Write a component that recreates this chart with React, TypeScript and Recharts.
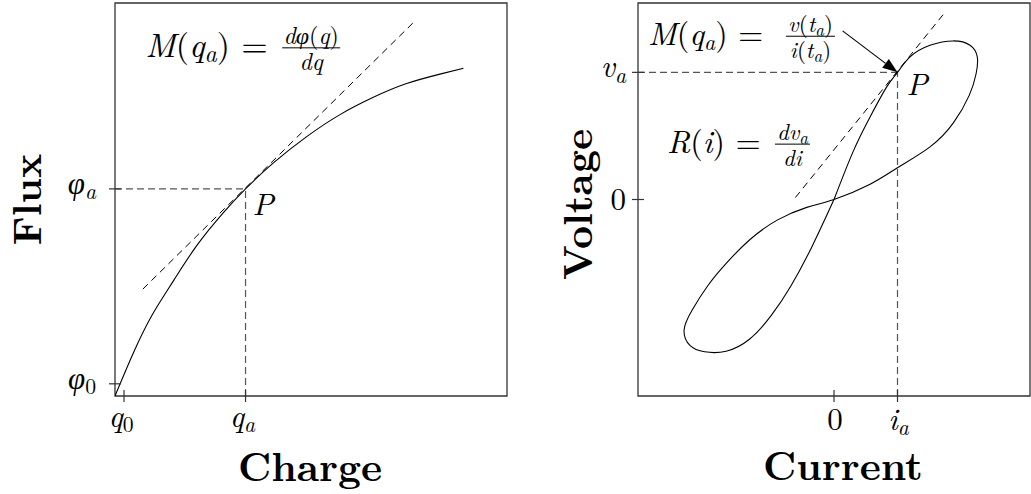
import React from 'react';
import { ComposedChart, Line, XAxis, YAxis, ReferenceArea, ReferenceLine, ReferenceDot, Label } from 'recharts';

const MATH_FONT = '"Latin Modern Roman", "Liberation Serif", serif';
const TITLE_FONT = '"Latin Modern Roman", "DejaVu Serif", serif';

// left panel: flux against charge
const chargeValues = [0, 0.47, 0.94, 1.49, 2.08, 2.76, 3.33, 4.04, 4.89, 5.74, 6.59, 7.44, 8.29, 8.89];
const fluxValues = [0, 1.1, 2.05, 2.93, 3.82, 4.66, 5.27, 5.93, 6.6, 7.16, 7.6, 7.95, 8.19, 8.34];
const chargeTicks = [0.23, 3.33];
const chargeTickLabels = [['q', '0'], ['q', 'a']];
const fluxTicks = [0.31, 5.27];
const fluxTickLabels = [['φ', '0'], ['φ', 'a']];
const fluxTangentQ = [0.71, 7.68];
const fluxTangentPhi = [2.72, 9.57];

// right panel: pinched hysteresis loop (upper lobe, then lower lobe)
const currentValues = [0, 0.98, 1.84, 2.69, 3.24, 3.88, 4.9, 6.09, 6.94, 7.31, 7.25, 6.9, 6.09, 4.9, 3.24, 1.84, 0,
  -1.39, -2.9, -4.3, -5.5, -6.45, -7.25, -7.65, -7.35, -6.6, -5.5, -4.3, -3.2, -2.2, -1.15, 0];
const voltageValues = [0, 2.45, 4.2, 5.73, 6.47, 7.26, 7.85, 8.07, 7.85, 7.26, 6.4, 5.3, 3.9, 2.68, 1.62, 0.78, 0,
  -0.4, -1.05, -2.05, -3.25, -4.4, -5.65, -6.65, -7.42, -7.75, -7.72, -7.1, -5.9, -4.4, -2.45, 0];
const currentTicks = [0, 3.24];
const currentTickLabels = [['0', ''], ['i', 'a']];
const voltageTicks = [0, 6.47];
const voltageTickLabels = [['0', ''], ['v', 'a']];
const voltageTangentI = [-1.97, 5.61];
const voltageTangentV = [0.1, 9.46];
const arrowI = [0.44, 3.24];
const arrowV = [8.58, 6.47];

const fluxData = chargeValues.map((x, i) => ({ x, y: fluxValues[i] }));
const loopData = currentValues.map((x, i) => ({ x, y: voltageValues[i] }));

const BOX = '#333';
const GUIDE = '#555';

const isDigit = (s: string) => /\d/.test(s);

const mathText = (x: number, y: number, base: string, sub: string, anchor: string, size = 31) => (
  <text x={x} y={y} textAnchor={anchor} fontFamily={MATH_FONT} fontSize={size} fill="#000">
    <tspan fontStyle={isDigit(base) ? 'normal' : 'italic'}>{base}</tspan>
    {sub && (
      <tspan fontStyle={isDigit(sub) ? 'normal' : 'italic'} fontSize={size * 0.7} dy={size * 0.17}>{sub}</tspan>
    )}
  </text>
);

const renderTick = (p: any, ticks: number[], labels: string[][], side: string, gap: number, dx = 0) => {
  const { x, y, payload } = p;
  const idx = ticks.indexOf(payload.value);
  if (idx < 0) return <g />;
  const [base, sub] = labels[idx];
  if (side === 'left') {
    const dy = isDigit(base) ? 10 : 5;
    return (
      <g>
        <line x1={x - 6} x2={x + 6} y1={y} y2={y} stroke={BOX} strokeWidth={1.2} />
        {mathText(x - gap, y + dy, base, sub, 'end')}
      </g>
    );
  }
  return (
    <g>
      <line x1={x} x2={x} y1={y - 6} y2={y + 6} stroke={BOX} strokeWidth={1.2} />
      {mathText(x + dx, y + gap, base, sub, 'middle')}
    </g>
  );
};

const ArrowShape = (p: any) => {
  const { x1, y1, x2, y2 } = p;
  const ang = Math.atan2(y2 - y1, x2 - x1);
  const len = 15;
  const half = 5.5;
  const bx = x2 - len * Math.cos(ang);
  const by = y2 - len * Math.sin(ang);
  const pts = `${x2},${y2} ${bx + half * Math.sin(ang)},${by - half * Math.cos(ang)} ${bx - half * Math.sin(ang)},${by + half * Math.cos(ang)}`;
  return (
    <g>
      <line x1={x1} y1={y1} x2={bx} y2={by} stroke="#000" strokeWidth={1.1} />
      <polygon points={pts} fill="#000" />
    </g>
  );
};

const fraction = (cx: number, cy: number, left: number, right: number, size: number, num: React.ReactNode, den: React.ReactNode) => (
  <g>
    <text x={cx + (left + right) / 2} y={cy - 13} fontSize={size} textAnchor="middle">{num}</text>
    <line x1={cx + left} x2={cx + right} y1={cy - 9} y2={cy - 9} stroke="#000" strokeWidth={1} />
    <text x={cx + (left + right) / 2} y={cy + 13} fontSize={size} textAnchor="middle">{den}</text>
  </g>
);

const FluxFormula = (p: any) => {
  const { cx, cy } = p;
  return (
    <g fontFamily={MATH_FONT} fill="#000">
      <text x={cx} y={cy} fontSize={34}>
        <tspan fontStyle="italic">M</tspan>(<tspan fontStyle="italic">q</tspan>
        <tspan fontStyle="italic" fontSize={24} dy={5}>a</tspan>
        <tspan dy={-5}>) =</tspan>
      </text>
      {fraction(cx, cy, 137, 195, 24,
        <>
          <tspan fontStyle="italic">dφ</tspan>(<tspan fontStyle="italic">q</tspan>)
        </>,
        <tspan fontStyle="italic">dq</tspan>
      )}
    </g>
  );
};

const RatioFormula = (p: any) => {
  const { cx, cy } = p;
  return (
    <g fontFamily={MATH_FONT} fill="#000">
      <text x={cx} y={cy} fontSize={32}>
        <tspan fontStyle="italic">M</tspan>(<tspan fontStyle="italic">q</tspan>
        <tspan fontStyle="italic" fontSize={22} dy={5}>a</tspan>
        <tspan dy={-5}>) =</tspan>
      </text>
      {fraction(cx, cy, 138, 187, 23,
        <>
          <tspan fontStyle="italic">v</tspan>(<tspan fontStyle="italic">t</tspan>
          <tspan fontStyle="italic" fontSize={17} dy={4}>a</tspan>
          <tspan dy={-4}>)</tspan>
        </>,
        <>
          <tspan fontStyle="italic">i</tspan>(<tspan fontStyle="italic">t</tspan>
          <tspan fontStyle="italic" fontSize={17} dy={4}>a</tspan>
          <tspan dy={-4}>)</tspan>
        </>
      )}
    </g>
  );
};

const SlopeFormula = (p: any) => {
  const { cx, cy } = p;
  return (
    <g fontFamily={MATH_FONT} fill="#000">
      <text x={cx} y={cy} fontSize={32}>
        <tspan fontStyle="italic">R</tspan>(<tspan fontStyle="italic">i</tspan>) =
      </text>
      {fraction(cx, cy, 108, 143, 23,
        <>
          <tspan fontStyle="italic">dv</tspan>
          <tspan fontStyle="italic" fontSize={17} dy={4}>a</tspan>
        </>,
        <tspan fontStyle="italic">di</tspan>
      )}
    </g>
  );
};

const pointLabel = (dx: number, dy: number) => (p: any) => (
  <text x={p.cx + dx} y={p.cy + dy} fontFamily={MATH_FONT} fontStyle="italic" fontSize={31} fill="#000">P</text>
);

const titleX = (text: string, dx: number, dy: number) => (p: any) => {
  const vb = p.viewBox;
  return (
    <text x={vb.x + vb.width / 2 + dx} y={vb.y + dy} textAnchor="middle" fontFamily={TITLE_FONT} fontWeight="bold" fontSize={40} fill="#000">{text}</text>
  );
};

const titleY = (text: string, dx: number, dy: number) => (p: any) => {
  const vb = p.viewBox;
  const cx = vb.x + vb.width - dx;
  const cy = vb.y + vb.height / 2 + dy;
  return (
    <text x={cx} y={cy} transform={`rotate(-90 ${cx} ${cy})`} textAnchor="middle" fontFamily={TITLE_FONT} fontWeight="bold" fontSize={40} fill="#000">{text}</text>
  );
};

const App = () => {
  return (
    <div style={{ position: 'absolute', left: 0, top: 0, width: 1031, height: 494, background: '#fff' }}>
      <div style={{ position: 'absolute', left: 0, top: 0 }}>
        <ComposedChart width={520} height={494} margin={{ top: 3, right: 13, bottom: 0, left: 0 }}>
          <XAxis dataKey="x" type="number" domain={[0, 10]} allowDataOverflow ticks={chargeTicks} interval={0}
            height={98} axisLine={false} tickLine={false} tickSize={0} tickMargin={0}
            tick={(p: any) => renderTick(p, chargeTicks, chargeTickLabels, 'bottom', 31, -3)}>
            <Label content={titleX('Charge', -1, 85)} />
          </XAxis>
          <YAxis type="number" domain={[0, 10]} allowDataOverflow ticks={fluxTicks} interval={0}
            width={115} axisLine={false} tickLine={false} tickSize={0} tickMargin={0}
            tick={(p: any) => renderTick(p, fluxTicks, fluxTickLabels, 'left', 19)}>
            <Label content={titleY('Flux', 74, 0)} />
          </YAxis>
          <ReferenceArea x1={0} x2={10} y1={0} y2={10} fill="none" stroke={BOX} strokeWidth={1.3} />
          <ReferenceLine segment={[{ x: 0, y: fluxTicks[1] }, { x: chargeTicks[1], y: fluxTicks[1] }]} stroke={GUIDE} strokeWidth={1.2} strokeDasharray="7 4" />
          <ReferenceLine segment={[{ x: chargeTicks[1], y: 0 }, { x: chargeTicks[1], y: fluxTicks[1] }]} stroke={GUIDE} strokeWidth={1.2} strokeDasharray="7 4" />
          <ReferenceLine segment={[{ x: fluxTangentQ[0], y: fluxTangentPhi[0] }, { x: fluxTangentQ[1], y: fluxTangentPhi[1] }]} stroke="#000" strokeWidth={1} strokeDasharray="7 5" />
          <Line data={fluxData} dataKey="y" type="natural" stroke="#000" strokeWidth={1.1} dot={false} activeDot={false} isAnimationActive={false} />
          <ReferenceDot x={0.77} y={8.63} r={0} shape={FluxFormula} />
          <ReferenceDot x={chargeTicks[1]} y={fluxTicks[1]} r={0} shape={pointLabel(7, 26)} />
        </ComposedChart>
      </div>
      <div style={{ position: 'absolute', left: 520, top: 0 }}>
        <ComposedChart width={511} height={494} margin={{ top: 3, right: 1, bottom: 0, left: 0 }}>
          <XAxis dataKey="x" type="number" domain={[-10, 10]} allowDataOverflow ticks={currentTicks} interval={0}
            height={98} axisLine={false} tickLine={false} tickSize={0} tickMargin={0}
            tick={(p: any) => renderTick(p, currentTicks, currentTickLabels, 'bottom', 34, 1)}>
            <Label content={titleX('Current', 9, 84)} />
          </XAxis>
          <YAxis type="number" domain={[-10, 10]} allowDataOverflow ticks={voltageTicks} interval={0}
            width={118} axisLine={false} tickLine={false} tickSize={0} tickMargin={0}
            tick={(p: any) => renderTick(p, voltageTicks, voltageTickLabels, 'left', 12)}>
            <Label content={titleY('Voltage', 46, 5)} />
          </YAxis>
          <ReferenceArea x1={-10} x2={10} y1={-10} y2={10} fill="none" stroke={BOX} strokeWidth={1.3} />
          <ReferenceLine segment={[{ x: -10, y: voltageTicks[1] }, { x: currentTicks[1], y: voltageTicks[1] }]} stroke={GUIDE} strokeWidth={1.2} strokeDasharray="7 4" />
          <ReferenceLine segment={[{ x: currentTicks[1], y: -10 }, { x: currentTicks[1], y: voltageTicks[1] }]} stroke={GUIDE} strokeWidth={1.2} strokeDasharray="7 4" />
          <ReferenceLine segment={[{ x: voltageTangentI[0], y: voltageTangentV[0] }, { x: voltageTangentI[1], y: voltageTangentV[1] }]} stroke="#000" strokeWidth={1} strokeDasharray="7 5" />
          <Line data={loopData} dataKey="y" type="natural" stroke="#000" strokeWidth={1.1} dot={false} activeDot={false} isAnimationActive={false} />
          <ReferenceLine segment={[{ x: arrowI[0], y: arrowV[0] }, { x: arrowI[1], y: arrowV[1] }]} shape={ArrowShape} />
          <ReferenceDot x={-9.49} y={7.85} r={0} shape={RatioFormula} />
          <ReferenceDot x={-8.52} y={2.36} r={0} shape={SlopeFormula} />
          <ReferenceDot x={currentTicks[1]} y={voltageTicks[1]} r={0} shape={pointLabel(9, 23)} />
        </ComposedChart>
      </div>
    </div>
  );
};

export default App;
